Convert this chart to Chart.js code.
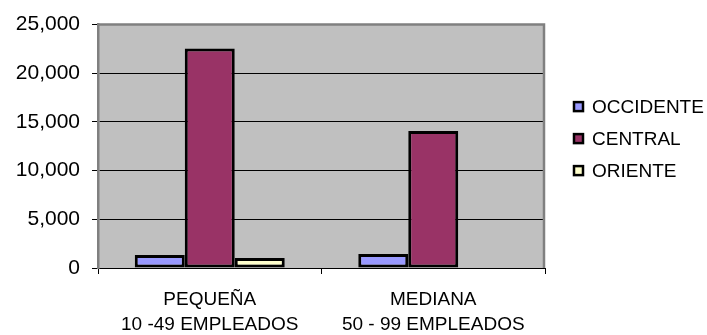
<!DOCTYPE html>
<html>
<head>
<meta charset="utf-8">
<script src="https://cdn.jsdelivr.net/npm/chart.js@4.4.1/dist/chart.umd.min.js"></script>
<style>
    body { margin: 0; background: #fff; }
    #wrap { width: 707px; height: 335px; }
</style>
</head>
<body>
<div id="wrap"><canvas id="empresasChart"></canvas></div>
<script>
var categorias = [
    ['PEQUEÑA', '10 -49 EMPLEADOS'],
    ['MEDIANA', '50 - 99 EMPLEADOS']
];
var regiones = ['OCCIDENTE', 'CENTRAL', 'ORIENTE'];
var occidente = [1330, 1430];
var central = [22550, 14080];
var oriente = [1020, null];
var colores = ['#9999ff', '#993366', '#ffffcc'];
var yTicks = [0, 5000, 10000, 15000, 20000, 25000];

var fuente = "'Liberation Sans', Arial, sans-serif";

// fondo gris y borde del area de trazado
var plotArea = {
    id: 'plotArea',
    beforeDraw: function(chart) {
        var a = chart.chartArea, ctx = chart.ctx;
        ctx.save();
        ctx.fillStyle = '#c0c0c0';
        ctx.fillRect(a.left, a.top, a.right - a.left, a.bottom - a.top);
        ctx.restore();
    },
    afterDraw: function(chart) {
        var a = chart.chartArea, ctx = chart.ctx;
        ctx.save();
        ctx.strokeStyle = '#808080';
        ctx.lineWidth = 2.5;
        ctx.beginPath();
        ctx.moveTo(a.left, a.top);
        ctx.lineTo(a.right - 1, a.top);
        ctx.lineTo(a.right - 1, a.bottom);
        ctx.stroke();
        ctx.restore();
    }
};

// leyenda a la derecha
var leyenda = {
    id: 'leyenda',
    afterDraw: function(chart) {
        var a = chart.chartArea, ctx = chart.ctx;
        ctx.save();
        ctx.font = '19px ' + fuente;
        ctx.textBaseline = 'middle';
        chart.data.datasets.forEach(function(ds, i) {
            var y = a.top + 82 + i * 32;
            var x = a.right + 29;
            ctx.fillStyle = ds.backgroundColor;
            ctx.fillRect(x, y - 4.5, 9, 9);
            ctx.strokeStyle = '#000';
            ctx.lineWidth = 2.5;
            ctx.strokeRect(x, y - 4.5, 9, 9);
            ctx.fillStyle = '#000';
            ctx.fillText(ds.label, x + 18, y + 1);
        });
        ctx.restore();
    }
};

var datos = [occidente, central, oriente];

var config = {
    type: 'bar',
    data: {
        labels: categorias,
        datasets: regiones.map(function(r, i) {
            return {
                label: r,
                data: datos[i],
                backgroundColor: colores[i],
                borderColor: '#000',
                borderWidth: 3,
                borderSkipped: false,
                categoryPercentage: 0.671,
                barPercentage: 1
            };
        })
    },
    options: {
        responsive: true,
        maintainAspectRatio: false,
        animation: false,
        layout: {
            padding: { top: 22, right: 162, left: 0, bottom: 0 }
        },
        plugins: {
            legend: { display: false },
            tooltip: { enabled: false }
        },
        scales: {
            x: {
                grid: {
                    offset: true,
                    drawOnChartArea: false,
                    tickLength: 6,
                    tickColor: '#000'
                },
                border: { color: '#000', width: 1 },
                ticks: {
                    color: '#000',
                    padding: 13,
                    maxRotation: 0,
                    font: { family: fuente, size: 19, lineHeight: 1.32 }
                },
                afterFit: function(scale) { scale.height = 67; }
            },
            y: {
                min: 0,
                max: 25000,
                afterBuildTicks: function(scale) {
                    scale.ticks = yTicks.map(function(v) { return { value: v }; });
                },
                grid: {
                    color: '#000',
                    tickLength: 6,
                    tickColor: '#000'
                },
                border: { color: '#808080', width: 2.5 },
                ticks: {
                    color: '#000',
                    padding: 12,
                    font: { family: fuente, size: 21 },
                    callback: function(v) { return v.toLocaleString('en-US'); }
                },
                afterFit: function(scale) { scale.width = 98; }
            }
        }
    },
    plugins: [plotArea, leyenda]
};

window.onload = function() {
    var ctx = document.getElementById('empresasChart').getContext('2d');
    window.empresasChart = new Chart(ctx, config);
};
</script>
</body>
</html>
